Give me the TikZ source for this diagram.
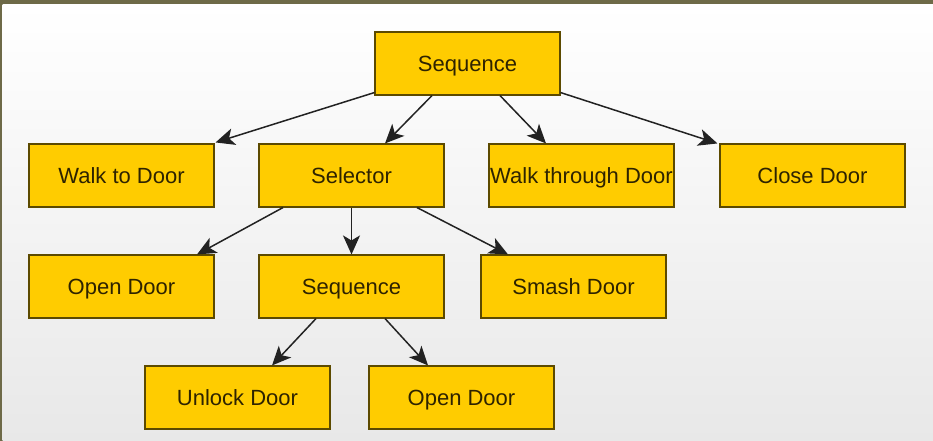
\documentclass[tikz,border=0pt]{standalone}
\usepackage{fontspec}
\setmainfont{Liberation Sans}
\usetikzlibrary{arrows.meta}
\definecolor{boxfill}{HTML}{FFCC00}
\definecolor{boxline}{HTML}{5C4A00}
\definecolor{boxtext}{HTML}{2E2300}
\definecolor{photo}{HTML}{6E6A48}
\definecolor{edgeline}{HTML}{222222}
\begin{document}
\begin{tikzpicture}[x=1pt, y=-1pt,
  box/.style={draw=boxline, line width=1.1pt, fill=boxfill, text=boxtext,
    minimum width=185pt, minimum height=63pt, inner sep=0pt,
    text height=17pt, text depth=1pt,
    font=\fontsize{22}{26}\selectfont},
  edge/.style={draw=edgeline, line width=1.5pt,
    -{Stealth[length=19pt, width=17pt, inset=5pt]}}]
\useasboundingbox (0,0) rectangle (933,441);
\fill[photo] (0,0) rectangle (933,441);
\shade[top color=white, bottom color=black!9] (2.5,4.5) rectangle (933,441);
% top level
\node[box] (seq) at (467.5,63.5) {Sequence};
\node[box] (walk) at (121.5,175.5) {Walk to Door};
\node[box] (sel) at (351.5,175.5) {Selector};
\node[box] (thru) at (581.5,175.5) {Walk through Door};
\node[box] (close) at (812.5,175.5) {Close Door};
% selector children
\node[box] (open) at (121.5,286.5) {Open Door};
\node[box] (seqb) at (351.5,286.5) {Sequence};
\node[box] (smash) at (573.5,286.5) {Smash Door};
% inner sequence children
\node[box] (unlock) at (237.5,397.5) {Unlock Door};
\node[box] (openb) at (461.5,397.5) {Open Door};
\draw[edge] ([yshift=3pt]seq.south west) -- ([xshift=1pt,yshift=1pt]walk.north east);
\draw[edge] ([xshift=-35.5pt]seq.south) -- ([xshift=33.5pt]sel.north);
\draw[edge] ([xshift=32.5pt]seq.south) -- ([xshift=-35.5pt]thru.north);
\draw[edge] ([yshift=3pt]seq.south east) -- ([xshift=-2pt]close.north west);
\draw[edge] ([xshift=-68.5pt]sel.south) -- ([xshift=75.5pt]open.north);
\draw[edge] (sel.south) -- (seqb.north);
\draw[edge] ([xshift=65.5pt]sel.south) -- ([xshift=-65.5pt]smash.north);
\draw[edge] ([xshift=-35.5pt]seqb.south) -- ([xshift=34.5pt]unlock.north);
\draw[edge] ([xshift=33.5pt]seqb.south) -- ([xshift=-33.5pt]openb.north);
\end{tikzpicture}
\end{document}
